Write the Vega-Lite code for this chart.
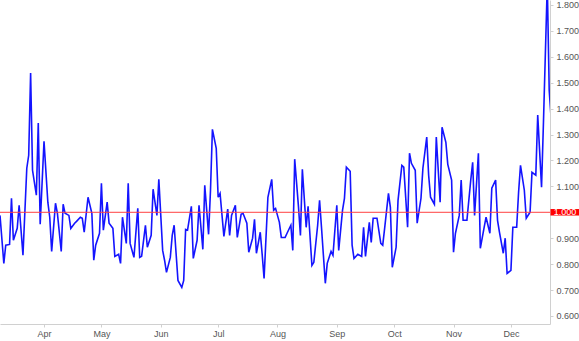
{
  "$schema": "https://vega.github.io/schema/vega-lite/v6.json",
  "autosize": "none",
  "width": 550,
  "height": 324,
  "padding": {"left": 0, "top": 0, "right": 29, "bottom": 17},
  "background": "white",
  "config": {"view": {"stroke": null}, "font": "Liberation Sans"},
  "datasets": {
    "series": [
      {"date": "2021-03-09", "value": 0.988},
      {"date": "2021-03-11", "value": 0.803},
      {"date": "2021-03-12", "value": 0.873},
      {"date": "2021-03-14", "value": 0.876},
      {"date": "2021-03-15", "value": 1.054},
      {"date": "2021-03-16", "value": 0.892},
      {"date": "2021-03-18", "value": 0.938},
      {"date": "2021-03-19", "value": 1.027},
      {"date": "2021-03-21", "value": 0.834},
      {"date": "2021-03-23", "value": 1.17},
      {"date": "2021-03-24", "value": 1.22},
      {"date": "2021-03-25", "value": 1.537},
      {"date": "2021-03-26", "value": 1.162},
      {"date": "2021-03-28", "value": 1.066},
      {"date": "2021-03-29", "value": 1.344},
      {"date": "2021-03-30", "value": 0.954},
      {"date": "2021-04-01", "value": 1.274},
      {"date": "2021-04-03", "value": 1.039},
      {"date": "2021-04-04", "value": 0.981},
      {"date": "2021-04-05", "value": 0.849},
      {"date": "2021-04-07", "value": 1.035},
      {"date": "2021-04-08", "value": 0.996},
      {"date": "2021-04-10", "value": 0.849},
      {"date": "2021-04-11", "value": 1.031},
      {"date": "2021-04-12", "value": 0.996},
      {"date": "2021-04-14", "value": 0.988},
      {"date": "2021-04-15", "value": 0.938},
      {"date": "2021-04-17", "value": 0.958},
      {"date": "2021-04-18", "value": 0.965},
      {"date": "2021-04-20", "value": 0.981},
      {"date": "2021-04-21", "value": 0.977},
      {"date": "2021-04-22", "value": 0.923},
      {"date": "2021-04-24", "value": 1.058},
      {"date": "2021-04-26", "value": 0.996},
      {"date": "2021-04-27", "value": 0.815},
      {"date": "2021-04-28", "value": 0.873},
      {"date": "2021-04-30", "value": 0.919},
      {"date": "2021-05-01", "value": 1.112},
      {"date": "2021-05-02", "value": 0.931},
      {"date": "2021-05-04", "value": 1.039},
      {"date": "2021-05-05", "value": 0.958},
      {"date": "2021-05-07", "value": 0.938},
      {"date": "2021-05-08", "value": 0.83},
      {"date": "2021-05-10", "value": 0.838},
      {"date": "2021-05-11", "value": 0.803},
      {"date": "2021-05-12", "value": 0.981},
      {"date": "2021-05-14", "value": 0.88},
      {"date": "2021-05-15", "value": 1.112},
      {"date": "2021-05-16", "value": 0.88},
      {"date": "2021-05-18", "value": 0.826},
      {"date": "2021-05-20", "value": 1.015},
      {"date": "2021-05-21", "value": 0.826},
      {"date": "2021-05-22", "value": 0.83},
      {"date": "2021-05-24", "value": 0.95},
      {"date": "2021-05-25", "value": 0.865},
      {"date": "2021-05-27", "value": 0.911},
      {"date": "2021-05-28", "value": 1.089},
      {"date": "2021-05-30", "value": 0.988},
      {"date": "2021-05-31", "value": 1.127},
      {"date": "2021-06-02", "value": 0.853},
      {"date": "2021-06-03", "value": 0.815},
      {"date": "2021-06-04", "value": 0.768},
      {"date": "2021-06-06", "value": 0.826},
      {"date": "2021-06-07", "value": 0.911},
      {"date": "2021-06-08", "value": 0.95},
      {"date": "2021-06-10", "value": 0.737},
      {"date": "2021-06-12", "value": 0.71},
      {"date": "2021-06-13", "value": 0.737},
      {"date": "2021-06-14", "value": 0.934},
      {"date": "2021-06-15", "value": 0.931},
      {"date": "2021-06-17", "value": 1.023},
      {"date": "2021-06-18", "value": 0.822},
      {"date": "2021-06-20", "value": 0.892},
      {"date": "2021-06-21", "value": 1.027},
      {"date": "2021-06-23", "value": 0.857},
      {"date": "2021-06-24", "value": 1.104},
      {"date": "2021-06-26", "value": 0.915},
      {"date": "2021-06-27", "value": 1.085},
      {"date": "2021-06-28", "value": 1.32},
      {"date": "2021-06-30", "value": 1.247},
      {"date": "2021-07-01", "value": 1.058},
      {"date": "2021-07-02", "value": 1.073},
      {"date": "2021-07-04", "value": 0.907},
      {"date": "2021-07-06", "value": 1.012},
      {"date": "2021-07-07", "value": 0.911},
      {"date": "2021-07-08", "value": 0.988},
      {"date": "2021-07-10", "value": 1.027},
      {"date": "2021-07-11", "value": 0.903},
      {"date": "2021-07-13", "value": 0.992},
      {"date": "2021-07-14", "value": 0.996},
      {"date": "2021-07-16", "value": 0.958},
      {"date": "2021-07-17", "value": 0.846},
      {"date": "2021-07-19", "value": 0.9},
      {"date": "2021-07-20", "value": 0.973},
      {"date": "2021-07-21", "value": 0.842},
      {"date": "2021-07-23", "value": 0.923},
      {"date": "2021-07-24", "value": 0.838},
      {"date": "2021-07-25", "value": 0.745},
      {"date": "2021-07-27", "value": 1.058},
      {"date": "2021-07-29", "value": 1.127},
      {"date": "2021-07-30", "value": 1.008},
      {"date": "2021-07-31", "value": 1.015},
      {"date": "2021-08-02", "value": 0.961},
      {"date": "2021-08-03", "value": 0.903},
      {"date": "2021-08-05", "value": 0.903},
      {"date": "2021-08-06", "value": 0.919},
      {"date": "2021-08-08", "value": 0.95},
      {"date": "2021-08-09", "value": 0.853},
      {"date": "2021-08-10", "value": 1.205},
      {"date": "2021-08-12", "value": 1.019},
      {"date": "2021-08-13", "value": 0.911},
      {"date": "2021-08-14", "value": 1.166},
      {"date": "2021-08-16", "value": 0.942},
      {"date": "2021-08-17", "value": 1.023},
      {"date": "2021-08-19", "value": 0.795},
      {"date": "2021-08-20", "value": 0.807},
      {"date": "2021-08-22", "value": 0.95},
      {"date": "2021-08-23", "value": 1.046},
      {"date": "2021-08-24", "value": 0.942},
      {"date": "2021-08-26", "value": 0.726},
      {"date": "2021-08-27", "value": 0.803},
      {"date": "2021-08-29", "value": 0.849},
      {"date": "2021-08-30", "value": 0.834},
      {"date": "2021-09-01", "value": 1.027},
      {"date": "2021-09-02", "value": 0.853},
      {"date": "2021-09-04", "value": 1.008},
      {"date": "2021-09-05", "value": 1.054},
      {"date": "2021-09-06", "value": 1.174},
      {"date": "2021-09-08", "value": 1.158},
      {"date": "2021-09-09", "value": 0.873},
      {"date": "2021-09-10", "value": 0.822},
      {"date": "2021-09-12", "value": 0.838},
      {"date": "2021-09-14", "value": 0.83},
      {"date": "2021-09-15", "value": 0.942},
      {"date": "2021-09-16", "value": 0.83},
      {"date": "2021-09-18", "value": 0.961},
      {"date": "2021-09-19", "value": 0.884},
      {"date": "2021-09-20", "value": 0.977},
      {"date": "2021-09-22", "value": 0.977},
      {"date": "2021-09-24", "value": 0.88},
      {"date": "2021-09-25", "value": 0.873},
      {"date": "2021-09-26", "value": 0.938},
      {"date": "2021-09-28", "value": 1.073},
      {"date": "2021-09-29", "value": 1.019},
      {"date": "2021-09-30", "value": 0.788},
      {"date": "2021-10-02", "value": 0.865},
      {"date": "2021-10-03", "value": 1.046},
      {"date": "2021-10-05", "value": 1.181},
      {"date": "2021-10-06", "value": 1.174},
      {"date": "2021-10-08", "value": 0.942},
      {"date": "2021-10-09", "value": 1.228},
      {"date": "2021-10-10", "value": 1.189},
      {"date": "2021-10-12", "value": 1.162},
      {"date": "2021-10-13", "value": 0.958},
      {"date": "2021-10-15", "value": 1.054},
      {"date": "2021-10-16", "value": 1.17},
      {"date": "2021-10-18", "value": 1.29},
      {"date": "2021-10-19", "value": 1.143},
      {"date": "2021-10-20", "value": 1.058},
      {"date": "2021-10-22", "value": 1.031},
      {"date": "2021-10-23", "value": 1.29},
      {"date": "2021-10-25", "value": 1.039},
      {"date": "2021-10-26", "value": 1.328},
      {"date": "2021-10-28", "value": 1.27},
      {"date": "2021-10-29", "value": 1.185},
      {"date": "2021-10-31", "value": 1.124},
      {"date": "2021-11-01", "value": 0.846},
      {"date": "2021-11-02", "value": 0.919},
      {"date": "2021-11-04", "value": 0.988},
      {"date": "2021-11-05", "value": 1.124},
      {"date": "2021-11-06", "value": 0.969},
      {"date": "2021-11-08", "value": 0.969},
      {"date": "2021-11-10", "value": 1.124},
      {"date": "2021-11-11", "value": 1.193},
      {"date": "2021-11-12", "value": 0.988},
      {"date": "2021-11-14", "value": 1.228},
      {"date": "2021-11-15", "value": 0.861},
      {"date": "2021-11-17", "value": 0.942},
      {"date": "2021-11-18", "value": 0.981},
      {"date": "2021-11-20", "value": 0.919},
      {"date": "2021-11-21", "value": 1.093},
      {"date": "2021-11-23", "value": 1.124},
      {"date": "2021-11-24", "value": 0.969},
      {"date": "2021-11-25", "value": 0.923},
      {"date": "2021-11-27", "value": 0.842},
      {"date": "2021-11-28", "value": 0.9},
      {"date": "2021-11-29", "value": 0.764},
      {"date": "2021-12-01", "value": 0.776},
      {"date": "2021-12-02", "value": 0.942},
      {"date": "2021-12-04", "value": 0.942},
      {"date": "2021-12-05", "value": 1.077},
      {"date": "2021-12-06", "value": 1.181},
      {"date": "2021-12-08", "value": 1.085},
      {"date": "2021-12-09", "value": 0.977},
      {"date": "2021-12-11", "value": 1.0},
      {"date": "2021-12-12", "value": 1.154},
      {"date": "2021-12-14", "value": 1.143},
      {"date": "2021-12-15", "value": 1.375},
      {"date": "2021-12-17", "value": 1.097},
      {"date": "2021-12-18", "value": 1.347},
      {"date": "2021-12-20", "value": 1.88},
      {"date": "2021-12-21", "value": 1.471},
      {"date": "2021-12-22", "value": 1.363}
    ],
    "reference": [{"level": 1.0, "label": "1.000"}]
  },
  "encoding": {
    "y": {
      "field": "value",
      "type": "quantitative",
      "scale": {"domain": [0.569, 1.819], "nice": false, "zero": false},
      "axis": {
        "orient": "right",
        "title": null,
        "values": [0.6, 0.7, 0.8, 0.9, 1.0, 1.1, 1.2, 1.3, 1.4, 1.5, 1.6, 1.7, 1.8],
        "labelExpr": "abs(datum.value - 1) < 0.001 ? '' : format(datum.value, '.3f')",
        "labelOverlap": false,
        "grid": false,
        "domainColor": "#d0d0d0",
        "tickColor": "#d0d0d0",
        "tickSize": 3,
        "labelColor": "#555555",
        "labelFontSize": 9,
        "labelPadding": 3
      }
    }
  },
  "layer": [
    {
      "data": {"name": "series"},
      "mark": {"type": "line", "color": "#1414ff", "strokeWidth": 1.6, "clip": true},
      "encoding": {
        "x": {
          "field": "date",
          "type": "temporal",
          "scale": {
            "domain": [
              {"year": 2021, "month": 3, "date": 9},
              {"year": 2021, "month": 12, "date": 21, "hours": 10}
            ]
          },
          "axis": {
            "title": null,
            "format": "%b",
            "tickCount": {"interval": "month", "step": 1},
            "grid": false,
            "domainColor": "#d0d0d0",
            "tickColor": "#d0d0d0",
            "tickSize": 3,
            "labelColor": "#555555",
            "labelFontSize": 9,
            "labelPadding": 2,
            "labelFlush": false
          }
        }
      }
    },
    {
      "data": {"name": "reference"},
      "mark": {"type": "rule", "color": "#ff4040", "strokeWidth": 1},
      "encoding": {"y": {"field": "level", "type": "quantitative"}}
    },
    {
      "data": {"name": "reference"},
      "mark": {
        "type": "point",
        "shape": "M-1,-0.224H1V0.224H-1Z",
        "size": 841,
        "filled": true,
        "opacity": 1,
        "color": "#ff0000",
        "strokeWidth": 0,
        "clip": false
      },
      "encoding": {
        "x": {"datum": {"year": 2021, "month": 12, "date": 29, "hours": 6}, "type": "temporal"},
        "y": {"field": "level", "type": "quantitative"}
      }
    },
    {
      "data": {"name": "reference"},
      "mark": {"type": "text", "color": "white", "fontSize": 9, "align": "center", "baseline": "middle", "clip": false},
      "encoding": {
        "x": {"datum": {"year": 2021, "month": 12, "date": 29, "hours": 6}, "type": "temporal"},
        "y": {"field": "level", "type": "quantitative"},
        "text": {"field": "label"}
      }
    }
  ]
}
